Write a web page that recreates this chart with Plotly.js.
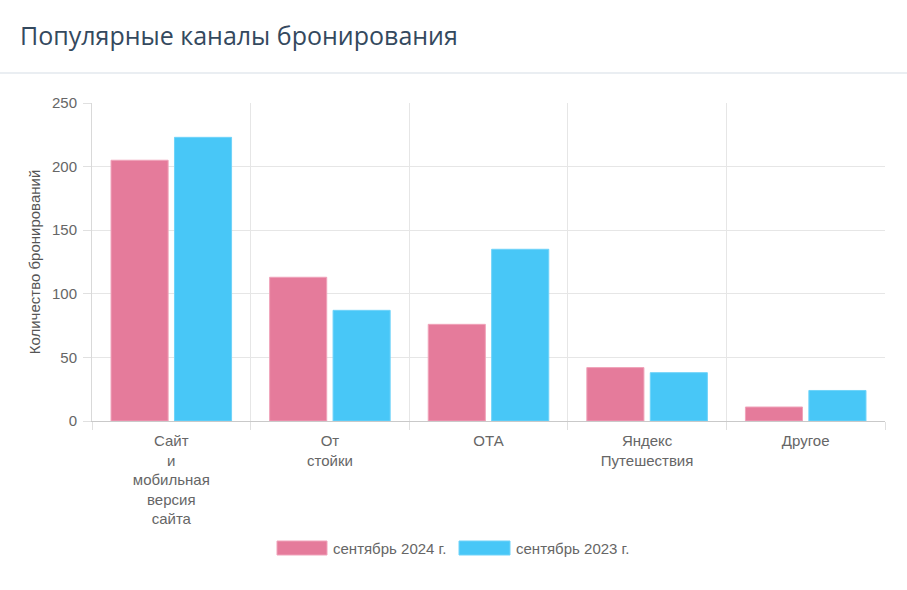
<!DOCTYPE html>
<html>
<head>
<meta charset="utf-8">
<script src="https://cdn.plot.ly/plotly-3.0.1.min.js"></script>
<style>
  html, body { margin: 0; padding: 0; background: #fff; }
  #chart { width: 907px; height: 590px; }
</style>
</head>
<body>
<div id="chart"></div>
<script>
// Booking channels, two periods compared
const categories = [
  "Сайт<br>и<br>мобильная<br>версия<br>сайта",
  "От<br>стойки",
  "ОТА",
  "Яндекс<br>Путешествия",
  "Другое"
];
const seriesNames = ["сентябрь 2024 г.", "сентябрь 2023 г."];
const sept2024 = [205, 113, 76, 42, 11];
const sept2023 = [223, 87, 135, 38, 24];
const yTicks = [0, 50, 100, 150, 200, 250];

const pink = "#e57b9b";
const pinkBorder = "#f0a3ba";
const blue = "#48c7f7";
const blueBorder = "#6fd3f9";
const textGrey = "#666666";
const labelFont = "Liberation Sans, Arial, sans-serif";

// plot-area geometry in pixels, used to place the header rule and custom legend
const W = 907, H = 590;
const M = { l: 92, r: 22, t: 103, b: 169 };
const pw = W - M.l - M.r, ph = H - M.t - M.b;
const px = x => (x - M.l) / pw;
const py = y => (H - M.b - y) / ph;

const traces = [
  { type: "bar", name: seriesNames[0], x: categories, y: sept2024,
    marker: { color: pink, line: { color: pinkBorder, width: 1 } },
    hoverinfo: "y", showlegend: false },
  { type: "bar", name: seriesNames[1], x: categories, y: sept2023,
    marker: { color: blue, line: { color: blueBorder, width: 1 } },
    hoverinfo: "y", showlegend: false }
];

// legend drawn as wide swatches with labels underneath the axis
const legendY = 548;
const legendItems = [
  { x0: 277, x1: 327, color: pink, border: pinkBorder, tx: 331, text: seriesNames[0] },
  { x0: 459, x1: 510, color: blue, border: blueBorder, tx: 514, text: seriesNames[1] }
];

const shapes = [
  { type: "line", xref: "paper", yref: "paper",
    x0: px(0), x1: px(W), y0: py(73), y1: py(73),
    line: { color: "#d5dde5", width: 1 } }
];
const annotations = [];
legendItems.forEach(it => {
  shapes.push({ type: "rect", xref: "paper", yref: "paper",
    x0: px(it.x0), x1: px(it.x1), y0: py(legendY + 7), y1: py(legendY - 7),
    fillcolor: it.color, line: { color: it.border, width: 1 } });
  annotations.push({ xref: "paper", yref: "paper", x: px(it.tx), y: py(legendY),
    xanchor: "left", yanchor: "middle", showarrow: false, text: it.text,
    font: { family: labelFont, size: 15, color: textGrey } });
});

const layout = {
  width: W, height: H,
  margin: M,
  paper_bgcolor: "#ffffff", plot_bgcolor: "#ffffff",
  title: {
    text: "Популярные каналы бронирования",
    x: 20 / W, xanchor: "left", xref: "container",
    y: 1 - 36 / H, yanchor: "middle", yref: "container",
    font: { family: "Open Sans, sans-serif", size: 25, color: "#34495e" }
  },
  barmode: "group",
  bargap: 0.2,
  bargroupgap: 0.1,
  xaxis: {
    type: "category",
    tickson: "boundaries",
    ticks: "outside", ticklen: 8, tickcolor: "#e0e0e0", tickwidth: 1,
    showgrid: true, gridcolor: "#e6e6e6", gridwidth: 1,
    showline: true, linecolor: "#c9c9c9", linewidth: 1,
    tickfont: { family: labelFont, size: 15, color: textGrey },
    ticklabelstandoff: 6,
    fixedrange: true
  },
  yaxis: {
    range: [0, 250],
    tickvals: yTicks,
    ticks: "outside", ticklen: 8, tickcolor: "#e0e0e0", tickwidth: 1,
    showgrid: true, gridcolor: "#e6e6e6", gridwidth: 1,
    zeroline: false,
    showline: true, linecolor: "#d9d9d9", linewidth: 1,
    tickfont: { family: labelFont, size: 15, color: textGrey },
    ticklabelstandoff: 3,
    title: {
      text: "Количество бронирований",
      standoff: 7,
      font: { family: labelFont, size: 15, color: "#555555" }
    },
    fixedrange: true
  },
  shapes: shapes,
  annotations: annotations,
  showlegend: false
};

Plotly.newPlot("chart", traces, layout, { displayModeBar: false, responsive: false });
</script>
</body>
</html>
